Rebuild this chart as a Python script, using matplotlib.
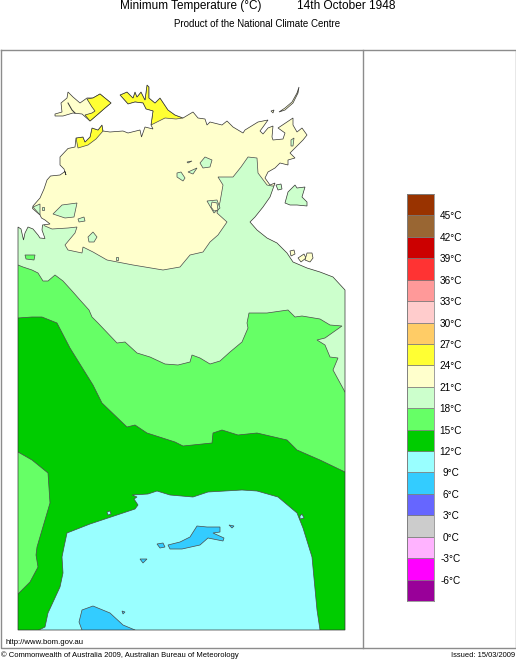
#!/usr/bin/env python3

"""
Minimum temperature map of the Top End, 14th October 1948
Outlines are traced off the map, in map grid units
"""

import matplotlib
matplotlib.use("Agg")
import matplotlib.pyplot as plt
from matplotlib.patches import Polygon

plt.rcParams["font.family"] = ["Liberation Sans", "DejaVu Sans"]

# colour key
levels = [-9, -6, -3, 0, 3, 6, 9, 12, 15, 18, 21, 24, 27, 30, 33, 36, 39, 42, 45, 48]
level_colors = ["#990099", "#ff00ff", "#ffb3ff", "#cccccc", "#6666ff", "#33ccff",
                "#99ffff", "#00cc00", "#66ff66", "#ccffcc", "#ffffcc", "#ffff33",
                "#ffcc66", "#ffcccc", "#ff9999", "#ff3333", "#cc0000", "#996633",
                "#993300"]
tick_values = levels[1:-1]
tick_labels = [str(v) + "\u00b0C" for v in tick_values]

# outlines
mainland = [(18, 227), (21, 229), (23.5, 240), (25, 233), (28, 227), (33, 229), (38, 235),
    (40, 238), (45, 238.5), (42, 230), (42.5, 225), (50, 224), (45, 220), (41.5, 218),
    (40, 215), (32.5, 208.5), (33, 206), (40, 198), (44, 189), (47, 180), (50.5, 176),
    (60, 175), (65, 171.5), (66, 175), (64, 169), (60, 165), (60, 157), (68, 148.5),
    (75, 147), (76, 138), (83, 137), (85, 142), (90, 137), (92, 128), (98, 130),
    (102, 125), (103, 131), (110, 132), (123, 131), (128, 133), (140, 130), (141.5, 137),
    (145, 127), (153, 129), (151, 125), (153, 111), (146, 109), (143, 103), (135, 102),
    (128, 104), (120, 95), (127, 92), (133, 98), (135, 92), (137, 97), (141, 92),
    (145, 100), (147, 85), (149, 87), (149, 98), (155, 103), (160, 98), (168, 110),
    (175, 115), (183, 118), (193, 112), (198, 118), (205, 119), (207, 125), (210, 122),
    (222, 125), (227, 121), (233, 127), (243, 133), (245, 130), (258, 122), (268, 120),
    (263, 127), (260, 131), (263, 134), (268, 128), (273, 126), (272, 137), (273, 140),
    (283, 139), (285, 133), (278, 128), (287, 122), (293, 118), (293, 125), (297, 132),
    (302, 128), (307, 135), (303, 140), (298, 145), (293, 150), (290, 153), (295, 158),
    (288, 160), (288, 165), (280, 163), (275, 168), (268, 172), (265, 178), (270, 185),
    (275, 183), (270, 197), (263, 207), (255, 217), (250, 222), (257, 230), (267, 238),
    (277, 243), (287, 253), (293, 262), (307, 268), (320, 272), (333, 277), (345, 290),
    (345, 630), (18, 630)]

tiwi = [(55, 114), (62, 112), (61, 103), (67, 98), (68, 92), (73, 97), (80, 103), (87, 98),
    (93, 98), (100, 94), (111, 103), (105, 108), (97, 115), (90, 121), (82, 114),
    (73, 113), (63, 116), (55, 116)]
tiwi_yellow = [(87, 99), (93, 98), (100, 94), (111, 103), (105, 108), (97, 115), (90, 121),
    (85, 115), (92, 113), (95, 111), (92, 107)]
apsley_strait = [(68, 103), (72, 110), (75, 113)]
darwin_yellow = [(76, 138), (83, 137), (85, 142), (90, 137), (92, 128), (98, 130),
    (102, 125), (103, 131), (96, 139), (88, 145), (78, 148)]
coburg_yellow = [(151, 125), (153, 111), (146, 109), (143, 103), (135, 102), (128, 104),
    (120, 95), (127, 92), (133, 98), (135, 92), (137, 97), (141, 92), (145, 100),
    (147, 85), (149, 87), (149, 98), (155, 103), (160, 98), (168, 110), (175, 115),
    (183, 118), (176, 119), (165, 118)]

marchinbar = [(279, 112), (285, 108), (292, 102), (297, 93), (299, 87), (298, 93),
    (293, 103), (285, 110)]
outer_island = [(271, 111), (274, 110), (273, 113)]
groote = [(285, 203), (288, 192), (295, 185), (297, 188), (305, 187), (302, 197),
    (307, 202), (307, 206), (297, 205), (290, 205)]
bickerton = [(276, 185), (281, 184), (282, 189), (278, 190)]
pellew_islands = [[(290, 251), (294, 250), (295, 254), (291, 256)],
    [(298, 258), (304, 254), (306, 258), (301, 262)],
    [(307, 253), (312, 253), (313, 258), (310, 262), (305, 260)]]

band_18_21 = [(10, 222), (43, 222), (45, 226), (52, 229), (68, 228), (77, 227), (75, 233),
    (65, 245), (68, 250), (82, 253), (83, 247), (93, 252), (107, 260), (133, 265),
    (163, 270), (180, 267), (190, 255), (203, 252), (210, 242), (218, 235), (227, 222),
    (217, 213), (220, 202), (223, 185), (218, 177), (233, 177), (241, 167), (248, 157),
    (257, 158), (258, 173), (267, 185), (272, 186), (360, 186), (360, 640), (10, 640)]
blobs_18_21 = [[(53, 214), (62, 205), (77, 203), (74, 217), (65, 218)],
    [(88, 237), (93, 232), (97, 237), (94, 242), (89, 242)],
    [(78, 219), (84, 217), (85, 221), (79, 222)],
    [(33, 207), (40, 204), (40, 215)],
    [(42, 207), (44, 207), (44, 210), (42, 210)],
    [(200, 163), (205, 157), (212, 160), (210, 167), (203, 168)],
    [(177, 173), (181, 172), (185, 178), (183, 181), (177, 177)],
    [(188, 172), (197, 168), (193, 174)],
    [(187, 162), (192, 161), (188, 163)],
    [(291, 140), (294, 138), (293, 146), (291, 146)],
    [(207, 201), (217, 200), (220, 208), (214, 213)],
    [(116, 257), (118, 257), (118, 260), (116, 260)]]
blob_21_24 = [(212, 202), (217, 203), (218, 210), (214, 211), (211, 207)]
west_box_15_18 = [(25, 255), (35, 255), (34, 260), (26, 259)]

band_15_18 = [(10, 263), (18, 265), (23, 267), (32, 270), (38, 273), (43, 281), (48, 281),
    (55, 275), (63, 281), (73, 292), (80, 300), (89, 310), (92, 317), (98, 323),
    (117, 343), (125, 342), (137, 353), (150, 357), (165, 364), (178, 365), (190, 362),
    (192, 355), (200, 358), (210, 364), (220, 361), (230, 352), (242, 342), (248, 328),
    (247, 323), (249, 313), (267, 313), (288, 310), (295, 317), (302, 316), (320, 319),
    (330, 325), (342, 326), (325, 338), (317, 340), (325, 345), (330, 357), (338, 358),
    (333, 370), (345, 392), (360, 392), (360, 640), (10, 640)]

band_12_15 = [(10, 318), (18, 318), (32, 317), (42, 317), (57, 323), (70, 348), (93, 385),
    (102, 403), (127, 427), (135, 425), (147, 433), (175, 442), (183, 446), (212, 443),
    (213, 433), (222, 430), (238, 435), (257, 433), (287, 440), (297, 450), (320, 460),
    (345, 472), (360, 480), (360, 640), (10, 640)]
patch_15_18 = [(10, 452), (18, 452), (32, 460), (48, 473), (50, 503), (37, 547), (36, 555),
    (38, 567), (30, 582), (18, 594), (10, 594)]

band_9_12 = [(132, 495), (137, 497), (134, 499), (138, 505), (135, 509), (117, 515),
    (90, 524), (67, 533), (64, 547), (62, 557), (63, 573), (60, 587), (48, 613),
    (45, 627), (39, 630), (39, 640), (320, 640), (320, 630), (317, 610), (312, 557),
    (303, 528), (297, 513), (278, 497), (257, 491), (242, 490), (208, 492), (193, 497),
    (170, 495), (157, 491), (148, 494)]
specks_9_12 = [[(107, 512), (110, 511), (111, 514), (108, 515)],
    [(300, 516), (302, 514), (304, 518), (300, 519)]]

patches_6_9 = [[(168, 545), (180, 542), (190, 537), (197, 526), (207, 527), (220, 527),
        (220, 532), (213, 533), (224, 538), (223, 541), (208, 538), (200, 545),
        (182, 549), (170, 549)],
    [(157, 544), (163, 543), (165, 547), (160, 548)],
    [(140, 559), (147, 559), (143, 563)],
    [(229, 525), (234, 526), (232, 528)],
    [(122, 611), (125, 612), (123, 614)],
    [(82, 610), (93, 606), (110, 613), (123, 625), (135, 630), (135, 640), (82, 640),
        (82, 630), (79, 622)]]

frame_x = [0.5, 515.5, 515.5, 0.5, 0.5]
frame_y = [50, 50, 648, 648, 50]
divider_x = [362.5, 362.5]
divider_y = [50, 648]

LINE = "#4a4a4a"
COAST = "#333333"
LW = 0.5

fig = plt.figure(figsize=(5.16, 6.6), dpi=100)

# page: frame and all the wording
page = fig.add_axes([0, 0, 1, 1])
page.set_xlim(0, 516)
page.set_ylim(660, 0)
page.axis("off")
page.plot(frame_x, frame_y, color="#8c8c8c", lw=1.0)
page.plot(divider_x, divider_y, color="#8c8c8c", lw=1.0)
page.text(120, 6, "Minimum Temperature (\u00b0C)", fontsize=8.5, va="center")
page.text(297, 6, "14th October 1948", fontsize=8.55, va="center")
page.text(174, 24, "Product of the National Climate Centre", fontsize=7.05, va="center")
page.text(5, 642, "http://www.bom.gov.au", fontsize=5.55, va="center")
page.text(1, 655.5, "\u00a9 Commonwealth of Australia 2009, Australian Bureau of Meteorology",
          fontsize=5.5, va="center")
page.text(515, 655.5, "Issued: 15/03/2009", fontsize=5.4, va="center", ha="right")

# map
ax = fig.add_axes([0, 0, 1, 1], facecolor="none")
ax.set_xlim(0, 516)
ax.set_ylim(660, 0)
ax.axis("off")

land = Polygon(mainland, closed=True, fc=level_colors[10], ec="none", zorder=1)
ax.add_patch(land)

def clipped(points, color, z):
    p = Polygon(points, closed=True, fc=color, ec=LINE, lw=LW, zorder=z)
    ax.add_patch(p)
    p.set_clip_path(land)

def free(points, color, z=9):
    ax.add_patch(Polygon(points, closed=True, fc=color, ec=COAST, lw=LW, zorder=z))

clipped(band_18_21, level_colors[9], 2)
for b in blobs_18_21:
    clipped(b, level_colors[9], 3)
clipped(blob_21_24, level_colors[10], 4)
clipped(west_box_15_18, level_colors[8], 4)
clipped(darwin_yellow, level_colors[11], 4)
clipped(coburg_yellow, level_colors[11], 4)
clipped(band_15_18, level_colors[8], 5)
clipped(band_12_15, level_colors[7], 6)
clipped(patch_15_18, level_colors[8], 7)
clipped(band_9_12, level_colors[6], 7)
for s in specks_9_12:
    clipped(s, level_colors[6], 7)
for s in patches_6_9:
    clipped(s, level_colors[5], 8)

# coastline over the bands, then the islands
ax.add_patch(Polygon(mainland, closed=True, fc="none", ec=COAST, lw=LW, zorder=9))
free(tiwi, level_colors[10])
free(tiwi_yellow, level_colors[11], 10)
ax.plot([p[0] for p in apsley_strait], [p[1] for p in apsley_strait], color=COAST, lw=0.7, zorder=11)
free(marchinbar, level_colors[10])
free(outer_island, level_colors[10])
free(groote, level_colors[9])
free(bickerton, level_colors[9])
for isl in pellew_islands:
    free(isl, level_colors[10])

# colour key
key = fig.add_axes([407 / 516, 1 - 601 / 660, 27 / 516, 407 / 660])
for i, c in enumerate(level_colors):
    key.bar(0, levels[i + 1] - levels[i], bottom=levels[i], width=1, color=c,
            edgecolor="#777777", linewidth=0.5)
key.set_xlim(-0.5, 0.5)
key.set_ylim(levels[0], levels[-1])
key.set_xticks([])
key.yaxis.tick_right()
key.set_yticks(tick_values)
key.set_yticklabels(tick_labels, fontsize=7.2, ha="center")
key.tick_params(axis="y", length=0, pad=12)
for s in key.spines.values():
    s.set_color("#777777")
    s.set_linewidth(0.5)

fig.savefig("out.png", dpi=100)
plt.close(fig)
